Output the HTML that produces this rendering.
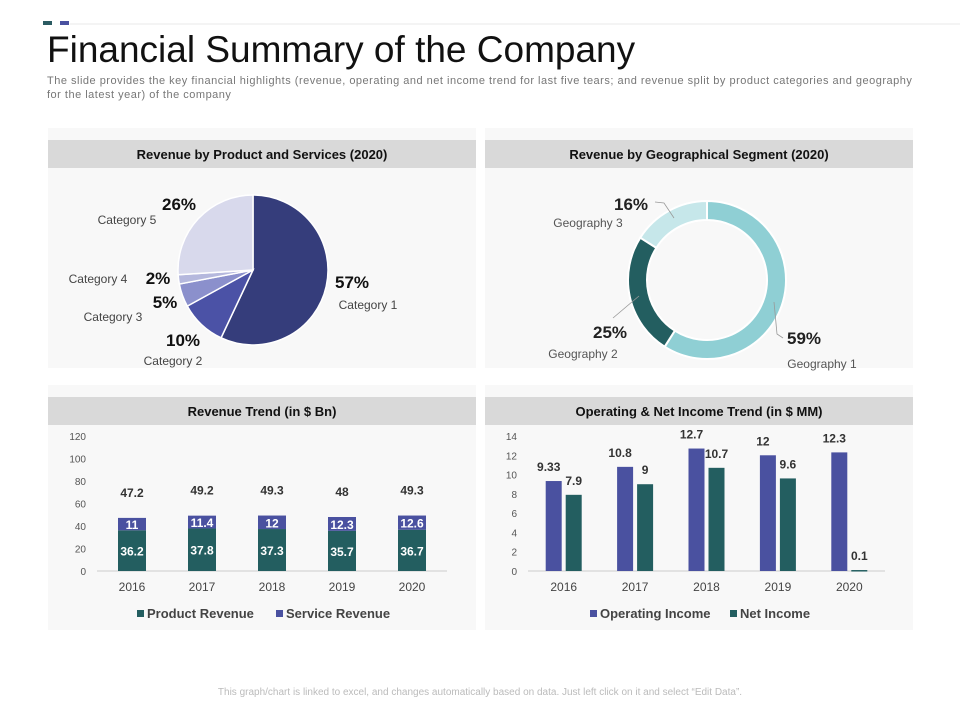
<!DOCTYPE html>
<html><head><meta charset="utf-8">
<style>
body{margin:0;width:960px;height:720px;background:#fff;font-family:"Liberation Sans",Arial,sans-serif;overflow:hidden;position:relative}
.abs{position:absolute}
</style></head>
<body>
<div class="abs" style="left:43px;top:21px;width:9px;height:4px;background:#2b5b62"></div>
<div class="abs" style="left:60px;top:21px;width:9px;height:4px;background:#4a51a0"></div>
<div class="abs" style="left:70px;top:23px;width:890px;height:2px;background:#f4f4f4"></div>
<div class="abs" style="left:47px;top:29px;font-size:37px;color:#111;white-space:nowrap">Financial Summary of the Company</div>
<div class="abs" style="left:47px;top:74px;width:900px;font-size:11px;line-height:14px;color:#777;letter-spacing:0.5px;white-space:nowrap">The slide provides the key financial highlights (revenue, operating and net income trend for last five tears; and revenue split by product categories and geography<br>for the latest year) of the company</div>
<div class="abs" style="left:0;top:687px;width:960px;text-align:center;font-size:10px;color:#bbb">This graph/chart is linked to excel, and changes automatically based on data. Just left click on it and select “Edit Data”.</div>

<svg id="chart" class="abs" style="left:0;top:0" width="960" height="720"></svg>

<script>
// Pie data
const pieCats = ["Category 1","Category 2","Category 3","Category 4","Category 5"];
const pieVals = [57,10,5,2,26];
// Donut data
const geoCats = ["Geography 1","Geography 2","Geography 3"];
const geoVals = [59,25,16];
// Revenue trend
const years = ["2016","2017","2018","2019","2020"];
const productRev = [36.2,37.8,37.3,35.7,36.7];
const serviceRev = [11,11.4,12,12.3,12.6];
const revTotals = [47.2,49.2,49.3,48,49.3];
const revTicks = [0,20,40,60,80,100,120];
// Income trend
const opIncome = [9.33,10.8,12.7,12,12.3];
const netIncome = [7.9,9,10.7,9.6,0.1];
const incTicks = [0,2,4,6,8,10,12,14];

const NS="http://www.w3.org/2000/svg";
const svg=document.getElementById('chart');
function el(tag,attrs,parent){const e=document.createElementNS(NS,tag);for(const k in attrs)e.setAttribute(k,attrs[k]);(parent||svg).appendChild(e);return e;}
function txt(s,x,y,attrs){const t=el('text',Object.assign({x:x,y:y,'font-family':'Liberation Sans, Arial, sans-serif'},attrs||{}));t.textContent=s;return t;}

// Panels
const panels=[[48,128,428,240,"Revenue by Product and Services (2020)",140],[485,128,428,240,"Revenue by Geographical Segment (2020)",140],[48,385,428,245,"Revenue Trend (in $ Bn)",397],[485,385,428,245,"Operating & Net Income Trend (in $ MM)",397]];
const pnames=['product-panel','geo-panel','revenue-trend-panel','income-trend-panel'];
panels.forEach((p,i)=>{
  const g=el('g',{});
  
  
  el('rect',{x:p[0],y:p[1],width:p[2],height:p[3],fill:'#f8f8f8'},g);
  const h=el('rect',{x:p[0],y:p[5],width:p[2],height:28,fill:'#d9d9d9'},g);
  
  
  const t=txt(p[4],p[0]+p[2]/2,p[5]+19,{'font-size':13,'font-weight':'bold','text-anchor':'middle',fill:'#111'});
  
  
});

function arcPath(cx,cy,r0,r1,a0,a1){
  const p=(r,a)=>[cx+r*Math.sin(a),cy-r*Math.cos(a)];
  const large=(a1-a0)>Math.PI?1:0;
  const [x1,y1]=p(r1,a0),[x2,y2]=p(r1,a1);
  if(r0===0) return `M${cx},${cy}L${x1},${y1}A${r1},${r1} 0 ${large} 1 ${x2},${y2}Z`;
  const [x3,y3]=p(r0,a1),[x4,y4]=p(r0,a0);
  return `M${x1},${y1}A${r1},${r1} 0 ${large} 1 ${x2},${y2}L${x3},${y3}A${r0},${r0} 0 ${large} 0 ${x4},${y4}Z`;
}

// Pie
const pieColors=['#353d7b','#4b52a6','#8b90cc','#b5b8dd','#d8d9ec'];
const pieLabelPos=[[352,288,368,309],[183,346,173,365],[165,308,113,321],[158,284,98,283],[179,210,127,224]];
let tot=pieVals.reduce((a,b)=>a+b,0),a=0;
pieVals.forEach((v,i)=>{
  const a1=a+v/tot*2*Math.PI;
  const s=el('path',{d:arcPath(253,270,0,75,a,a1),fill:pieColors[i],stroke:'#fff','stroke-width':1.5});
  
  
  a=a1;
  const lp=pieLabelPos[i];
  const t1=txt(v+'%',lp[0],lp[1],{'font-size':17,'font-weight':'bold','text-anchor':'middle',fill:'#111'});
  
  
  const t2=txt(pieCats[i],lp[2],lp[3],{'font-size':12,'text-anchor':'middle',fill:'#444'});
  
  
});

// Donut
const geoColors=['#8fcfd4','#235e60','#c6e7ea'];
const geoLabelPos=[[804,344,822,368],[610,338,583,358],[631,210,588,227]];
tot=geoVals.reduce((a,b)=>a+b,0);a=0;
geoVals.forEach((v,i)=>{
  const a1=a+v/tot*2*Math.PI;
  const s=el('path',{d:arcPath(707,280,60,79,a,a1),fill:geoColors[i],stroke:'#fff','stroke-width':2});
  
  
  a=a1;
  const lp=geoLabelPos[i];
  const t1=txt(v+'%',lp[0],lp[1],{'font-size':17,'font-weight':'bold','text-anchor':'middle',fill:'#222'});
  
  
  const t2=txt(geoCats[i],lp[2],lp[3],{'font-size':12,'text-anchor':'middle',fill:'#555'});
  
  
});
el('polyline',{points:'774,302 777,334 783,338',fill:'none',stroke:'#999','stroke-width':0.8});
el('polyline',{points:'639,296 613,318',fill:'none',stroke:'#999','stroke-width':0.8});
el('polyline',{points:'655,202 664,203 674,218',fill:'none',stroke:'#999','stroke-width':0.8});

// Revenue trend
const rY0=571,rY1=436,rMax=120,rx0=97,rx1=447;
const ry=v=>rY0-(v/rMax)*(rY0-rY1);
const rBand=(rx1-rx0)/years.length;
const rxc=i=>rx0+rBand*(i+0.5);
revTicks.forEach(t=>{const e=txt(t,86,ry(t)+4,{'font-size':10,'text-anchor':'end',fill:'#555'});});
el('line',{x1:rx0,y1:rY0,x2:rx1,y2:rY0,stroke:'#ccc'});
years.forEach((y,i)=>{
  const cx=rxc(i),w=28;
  const b1=el('rect',{x:cx-w/2,y:ry(productRev[i]),width:w,height:rY0-ry(productRev[i]),fill:'#235e60'});
  
  
  const top=productRev[i]+serviceRev[i];
  const b2=el('rect',{x:cx-w/2,y:ry(top),width:w,height:ry(productRev[i])-ry(top),fill:'#4a51a0'});
  
  
  const l1=txt(productRev[i],cx,(ry(productRev[i])+rY0)/2+5,{'font-size':12,'font-weight':'bold','text-anchor':'middle',fill:'#fff'});
  
  const l2=txt(serviceRev[i],cx,(ry(top)+ry(productRev[i]))/2+5,{'font-size':12,'font-weight':'bold','text-anchor':'middle',fill:'#fff'});
  
  const l3=txt(revTotals[i],cx,ry(revTotals[i])-21,{'font-size':12,'font-weight':'bold','text-anchor':'middle',fill:'#333'});
  
  const xl=txt(y,cx,591,{'font-size':12,'text-anchor':'middle',fill:'#444'});
  
});
[[137,'#235e60','Product Revenue'],[276,'#4a51a0','Service Revenue']].forEach(l=>{
  const g=el('g',{});
  el('rect',{x:l[0],y:610,width:7,height:7,fill:l[1]},g);
  const t=txt(l[2],l[0]+10,618,{'font-size':13,'font-weight':'bold',fill:'#444'});
  g.appendChild(t);
});

// Income trend
const iY0=571,iY1=436,iMax=14,ix0=528,ix1=885;
const iy=v=>iY0-(v/iMax)*(iY0-iY1);
const iBand=(ix1-ix0)/years.length;
const ixc=i=>ix0+iBand*(i+0.5);
incTicks.forEach(t=>{const e=txt(t,517,iy(t)+4,{'font-size':10,'text-anchor':'end',fill:'#555'});});
el('line',{x1:ix0,y1:iY0,x2:ix1,y2:iY0,stroke:'#ccc'});
years.forEach((y,i)=>{
  const cx=ixc(i);
  const b1=el('rect',{x:cx-18,y:iy(opIncome[i]),width:16,height:iY0-iy(opIncome[i]),fill:'#4a51a0'});
  
  const b2=el('rect',{x:cx+2,y:iy(netIncome[i]),width:16,height:Math.max(1.5,iY0-iy(netIncome[i])),fill:'#235e60'});
  
  const l1=txt(opIncome[i],cx-15,iy(opIncome[i])-10,{'font-size':12,'font-weight':'bold','text-anchor':'middle',fill:'#333'});
  
  const l2=txt(netIncome[i],cx+10,iy(netIncome[i])-10,{'font-size':12,'font-weight':'bold','text-anchor':'middle',fill:'#333'});
  
  const xl=txt(y,cx,591,{'font-size':12,'text-anchor':'middle',fill:'#444'});
  
});
[[590,'#4a51a0','Operating Income'],[730,'#235e60','Net Income']].forEach(l=>{
  const g=el('g',{});
  el('rect',{x:l[0],y:610,width:7,height:7,fill:l[1]},g);
  const t=txt(l[2],l[0]+10,618,{'font-size':13,'font-weight':'bold',fill:'#444'});
  g.appendChild(t);
});
</script>
</body></html>
